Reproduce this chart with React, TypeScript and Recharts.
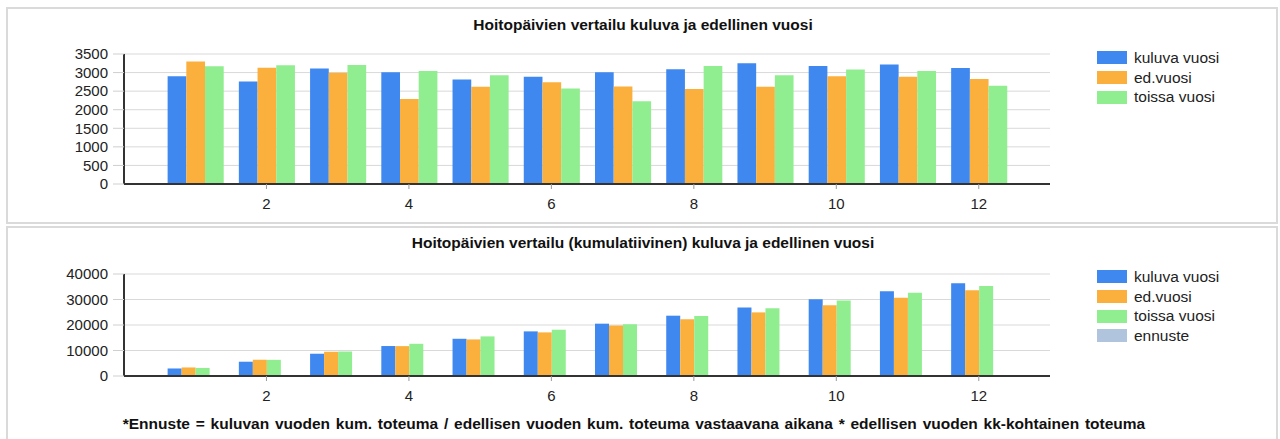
import React from 'react';
import { BarChart, Bar, XAxis, YAxis, CartesianGrid } from 'recharts';

// monthly care days
const months = [1, 2, 3, 4, 5, 6, 7, 8, 9, 10, 11, 12];
const kuluvaVuosi = [2900, 2760, 3110, 3010, 2815, 2890, 3010, 3090, 3250, 3175, 3220, 3120];
const edVuosi = [3300, 3130, 2995, 2290, 2615, 2740, 2625, 2555, 2615, 2900, 2885, 2825];
const toissaVuosi = [3170, 3200, 3205, 3040, 2925, 2570, 2230, 3175, 2930, 3085, 3040, 2645];

// cumulative
const kumKuluva = [2950, 5600, 8730, 11750, 14600, 17500, 20520, 23650, 26900, 30070, 33260, 36400];
const kumEd = [3350, 6380, 9500, 11720, 14340, 17100, 19800, 22250, 24950, 27770, 30720, 33600];
const kumToissa = [3160, 6340, 9600, 12630, 15530, 18150, 20300, 23540, 26520, 29640, 32680, 35250];
const kumEnnuste: (number | null)[] = [null, null, null, null, null, null, null, null, null, null, null, null];

const xTicks = [2, 4, 6, 8, 10, 12];
const yTicksTop = [0, 500, 1000, 1500, 2000, 2500, 3000, 3500];
const yTicksBottom = [0, 10000, 20000, 30000, 40000];

const titleTop = 'Hoitopäivien vertailu kuluva ja edellinen vuosi';
const titleBottom = 'Hoitopäivien vertailu (kumulatiivinen) kuluva ja edellinen vuosi';
const footnote =
  '*Ennuste = kuluvan vuoden kum. toteuma / edellisen vuoden kum. toteuma vastaavana aikana * edellisen vuoden kk-kohtainen toteuma';

const C_BLUE = '#3f88ef';
const C_ORANGE = '#fbb03d';
const C_GREEN = '#90ee90';
const C_ENNUSTE = '#b0c4de';

const FONT = "Arial, 'Liberation Sans', sans-serif";

const topData = months.map((m, i) => ({
  month: m,
  kuluva: kuluvaVuosi[i],
  ed: edVuosi[i],
  toissa: toissaVuosi[i],
}));

const bottomData = months.map((m, i) => ({
  month: m,
  kuluva: kumKuluva[i],
  ed: kumEd[i],
  toissa: kumToissa[i],
  ennuste: kumEnnuste[i],
}));

const legendTop = [
  { name: 'kuluva vuosi', color: C_BLUE },
  { name: 'ed.vuosi', color: C_ORANGE },
  { name: 'toissa vuosi', color: C_GREEN },
];
const legendBottom = [...legendTop, { name: 'ennuste', color: C_ENNUSTE }];

const tickStyle = { fill: '#222', fontSize: 15, fontFamily: FONT };

const LegendBox = ({ items, top }: { items: { name: string; color: string }[]; top: number }) => (
  <div style={{ position: 'absolute', left: 1097, top, fontFamily: FONT, fontSize: 15.5, color: '#222' }}>
    {items.map((it) => (
      <div key={it.name} style={{ height: 19.7, display: 'flex', alignItems: 'center' }}>
        <span style={{ width: 30, height: 13, background: it.color, display: 'inline-block', marginRight: 7 }} />
        <span>{it.name}</span>
      </div>
    ))}
  </div>
);

const Title = ({ text, top }: { text: string; top: number }) => (
  <div
    style={{
      position: 'absolute',
      left: 0,
      width: 1286,
      top,
      textAlign: 'center',
      fontFamily: FONT,
      fontWeight: 'bold',
      fontSize: 15.5,
      color: '#111',
      lineHeight: '18px',
    }}
  >
    {text}
  </div>
);

export default function App() {
  return (
    <div style={{ position: 'absolute', left: 0, top: 0, width: 1280, height: 439, overflow: 'hidden', background: '#fff' }}>
      <div style={{ position: 'absolute', left: 6, top: 7, width: 1272, height: 217, border: '2px solid #dadada', boxSizing: 'border-box' }} />
      <div style={{ position: 'absolute', left: 6, top: 226, width: 1272, height: 240, border: '2px solid #dadada', boxSizing: 'border-box' }} />

      <Title text={titleTop} top={16} />
      <div style={{ position: 'absolute', left: 0, top: 0 }}>
        <BarChart width={1280} height={224} data={topData} margin={{ top: 54, right: 230, bottom: 10, left: 64 }} barGap={0}>
          <CartesianGrid horizontal vertical={false} stroke="#d9d9d9" />
          <XAxis
            dataKey="month"
            type="number"
            domain={[0, 13]}
            ticks={xTicks}
            height={30}
            tick={tickStyle}
            tickSize={5}
            tickMargin={9}
            tickLine={{ stroke: '#999' }}
            axisLine={{ stroke: '#333', strokeWidth: 2 }}
          />
          <YAxis
            type="number"
            domain={[0, 3500]}
            ticks={yTicksTop}
            width={60}
            tick={tickStyle}
            tickSize={11}
            tickMargin={5}
            tickLine={{ stroke: '#cfcfcf' }}
            axisLine={{ stroke: '#333', strokeWidth: 2 }}
            interval={0}
          />
          <Bar dataKey="kuluva" fill={C_BLUE} barSize={18.7} isAnimationActive={false} />
          <Bar dataKey="ed" fill={C_ORANGE} barSize={18.7} isAnimationActive={false} />
          <Bar dataKey="toissa" fill={C_GREEN} barSize={18.7} isAnimationActive={false} />
        </BarChart>
      </div>
      <LegendBox items={legendTop} top={48} />

      <Title text={titleBottom} top={234} />
      <div style={{ position: 'absolute', left: 0, top: 226 }}>
        <BarChart width={1280} height={180} data={bottomData} margin={{ top: 48, right: 230, bottom: 0, left: 64 }} barGap={0}>
          <CartesianGrid horizontal vertical={false} stroke="#d9d9d9" />
          <XAxis
            dataKey="month"
            type="number"
            domain={[0, 13]}
            ticks={xTicks}
            height={30}
            tick={tickStyle}
            tickSize={5}
            tickMargin={9}
            tickLine={{ stroke: '#999' }}
            axisLine={{ stroke: '#333', strokeWidth: 2 }}
          />
          <YAxis
            type="number"
            domain={[0, 40000]}
            ticks={yTicksBottom}
            width={60}
            tick={tickStyle}
            tickSize={11}
            tickMargin={5}
            tickLine={{ stroke: '#cfcfcf' }}
            axisLine={{ stroke: '#333', strokeWidth: 2 }}
            interval={0}
          />
          <Bar dataKey="kuluva" fill={C_BLUE} barSize={14} isAnimationActive={false} />
          <Bar dataKey="ed" fill={C_ORANGE} barSize={14} isAnimationActive={false} />
          <Bar dataKey="toissa" fill={C_GREEN} barSize={14} isAnimationActive={false} />
          <Bar dataKey="ennuste" fill={C_ENNUSTE} barSize={14} isAnimationActive={false} />
        </BarChart>
      </div>
      <LegendBox items={legendBottom} top={267} />

      <div
        style={{
          position: 'absolute',
          left: 0,
          width: 1268,
          top: 415,
          textAlign: 'center',
          fontFamily: FONT,
          fontWeight: 'bold',
          fontSize: 15.5,
          wordSpacing: 1.5,
          color: '#111',
          lineHeight: '18px',
        }}
      >
        {footnote}
      </div>
    </div>
  );
}
